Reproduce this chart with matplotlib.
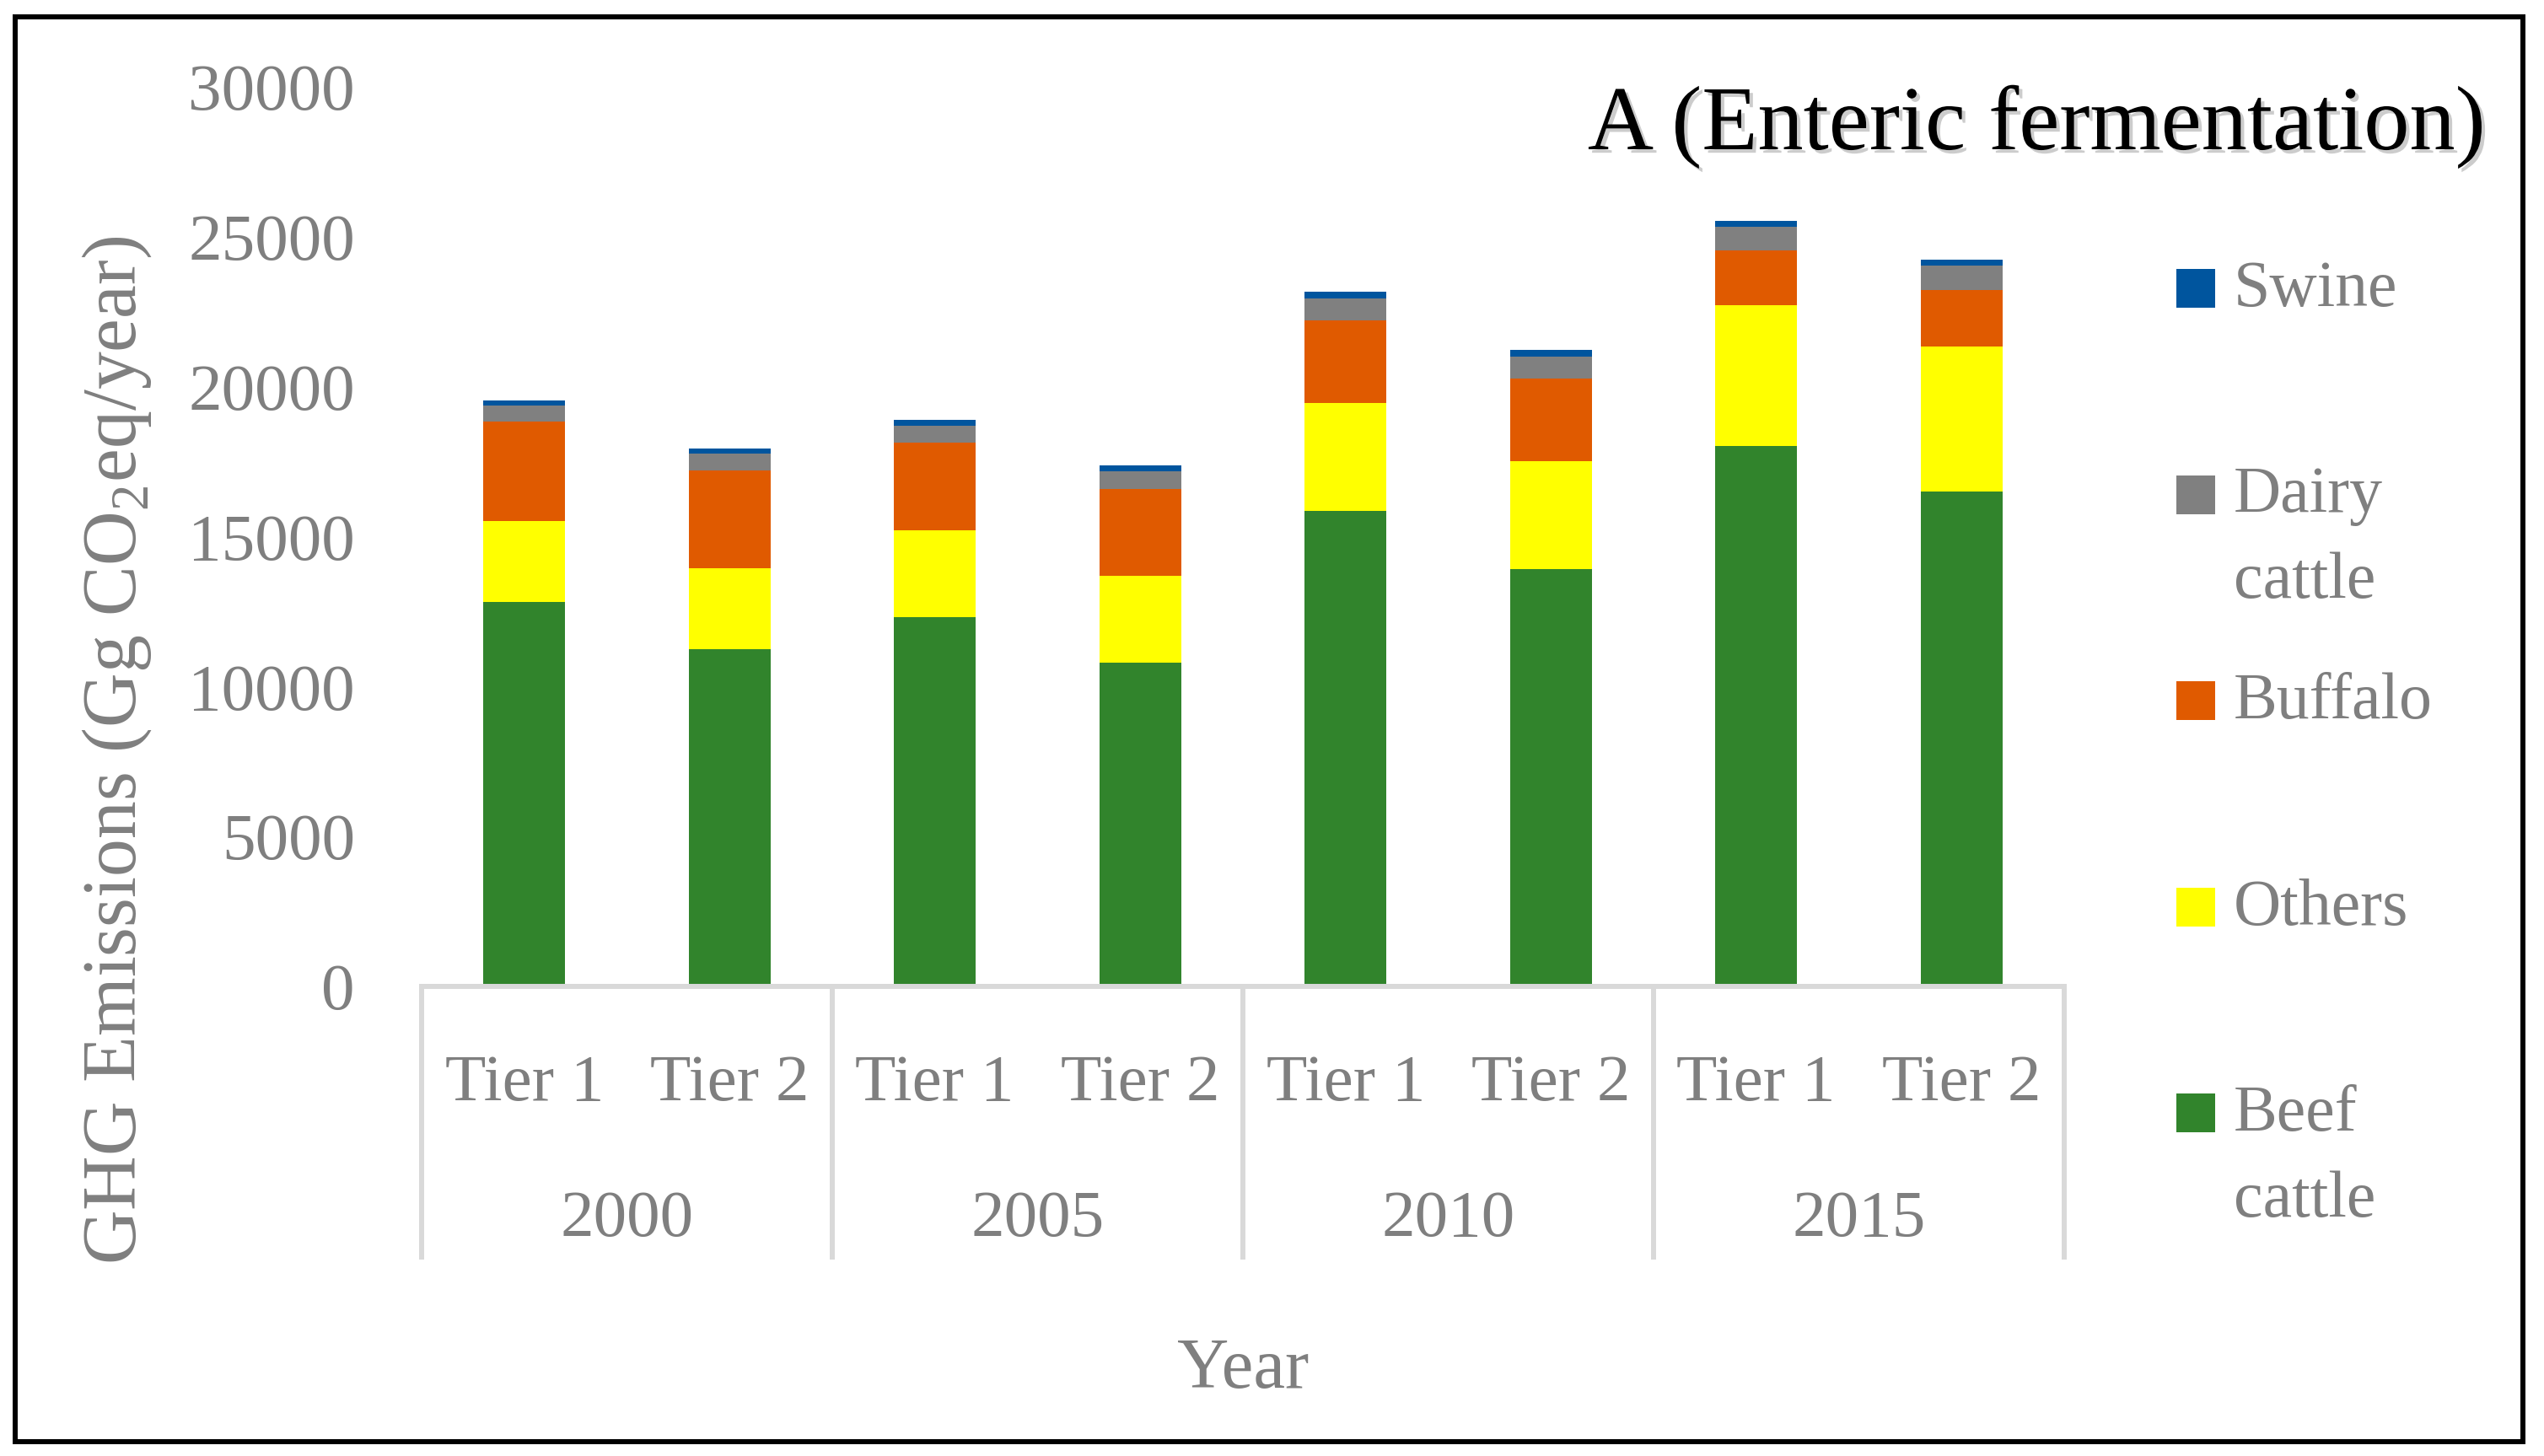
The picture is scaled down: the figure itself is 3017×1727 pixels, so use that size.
import matplotlib
matplotlib.use('Agg')
import matplotlib.pyplot as plt
import matplotlib.patheffects as pe
from matplotlib.patches import Rectangle
import numpy as np

plt.rcParams['font.family'] = ['Liberation Serif', 'DejaVu Serif']
plt.rcParams['mathtext.fontset'] = 'custom'
plt.rcParams['mathtext.rm'] = 'Liberation Serif'

# data (Gg CO2eq/year)
years = ['2000', '2005', '2010', '2015']
tiers = ['Tier 1', 'Tier 2']
beef = [12830, 11250, 12310, 10790, 15850, 13920, 18020, 16500]
others = [2690, 2690, 2890, 2900, 3600, 3600, 4690, 4830]
buffalo = [3320, 3280, 2930, 2900, 2760, 2750, 1840, 1880]
dairy = [520, 560, 560, 580, 730, 720, 790, 830]
swine = [170, 150, 200, 200, 220, 230, 180, 210]

series_names = ['Beef\ncattle', 'Others', 'Buffalo', 'Dairy\ncattle', 'Swine']
series_vals = [beef, others, buffalo, dairy, swine]
colors = ['#31842c', '#ffff00', '#e05a00', '#808080', '#00559e']

TXT = '#7f7f7f'
AXC = '#d9d9d9'
W, H = 3017, 1727
DPI = 100

fig = plt.figure(figsize=(W / DPI, H / DPI), dpi=DPI)
ax = fig.add_axes([500 / W, 1 - 1170 / H, (2448 - 500) / W, (1170 - 103) / H])

x = np.arange(len(beef))
bottom = np.zeros(len(beef))
for vals, c in zip(series_vals, colors):
    ax.bar(x, vals, width=0.4, bottom=bottom, color=c, linewidth=0)
    bottom += np.array(vals)

ax.set_xlim(-0.5, len(beef) - 0.5)
ax.set_ylim(0, 30000)
ax.set_yticks(np.arange(0, 30001, 5000))
ax.tick_params(axis='y', length=0, pad=57, labelsize=57, labelcolor=TXT)

ax.set_xticks(x)
ax.set_xticklabels([tiers[i % 2] for i in x])
ax.tick_params(axis='x', which='major', length=0, pad=58, labelsize=57, labelcolor=TXT)
ax.set_xticks(np.arange(-0.5, len(beef), 2), minor=True)
ax.tick_params(axis='x', which='minor', length=233, width=4.3, color=AXC, direction='out')

for s in ['left', 'right', 'top']:
    ax.spines[s].set_visible(False)
ax.spines['bottom'].set_color(AXC)
ax.spines['bottom'].set_linewidth(4.3)

# year group labels
for g, yr in enumerate(years):
    ax.text(2 * g + 0.5, -0.2774, yr, transform=ax.get_xaxis_transform(),
            ha='center', va='baseline', fontsize=57, color=TXT)

ax.text(0.5, -0.446, 'Year', transform=ax.transAxes, ha='center', va='baseline',
        fontsize=61, color=TXT)

fig.text(139 / W, 1 - 890 / H, r'GHG Emissions (Gg CO$_2$eq/year)', rotation=90,
         ha='center', va='center', fontsize=64.5, color=TXT)

fig.text(2948 / W, 1 - 177 / H, 'A (Enteric fermentation)', ha='right', va='baseline',
         fontsize=78, color='black',
         path_effects=[pe.withSimplePatchShadow(offset=(3, -3), shadow_rgbFace='gray', alpha=0.4)])

# legend, top entry is the last series
sq = 46
y_first = 365
step = 244.5
line_gap = 102
for i, (name, c) in enumerate(zip(series_names[::-1], colors[::-1])):
    yb = y_first + i * step
    fig.patches.append(Rectangle((2581 / W, 1 - yb / H), sq / W, sq / H,
                                 transform=fig.transFigure, facecolor=c, edgecolor='none'))
    for k, line in enumerate(name.split('\n')):
        fig.text(2649 / W, 1 - (yb - 2 + k * line_gap) / H, line, ha='left',
                 va='baseline', fontsize=56, color=TXT)

# outer frame
fig.patches.append(Rectangle((18 / W, 1 - 1710 / H), (2992 - 18) / W, (1710 - 20) / H,
                             transform=fig.transFigure, facecolor='none',
                             edgecolor='black', linewidth=4.3))

fig.savefig('out.png', dpi=DPI)
